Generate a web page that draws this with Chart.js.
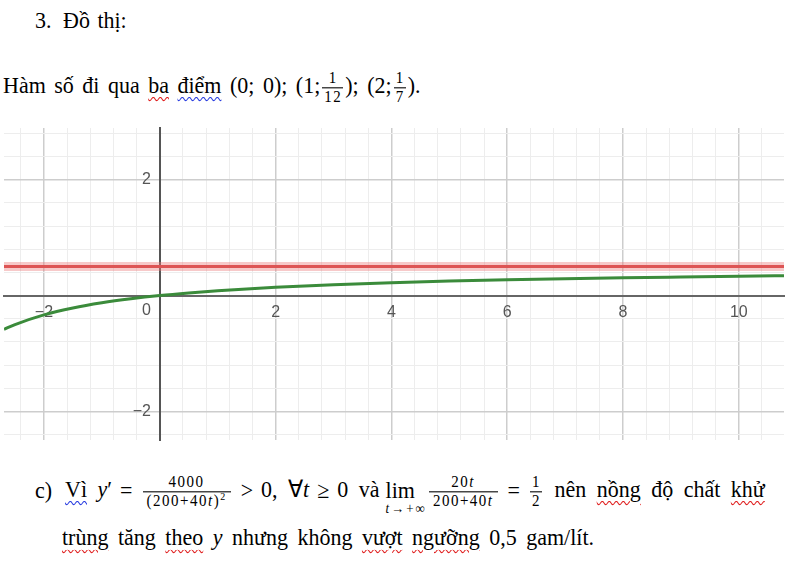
<!DOCTYPE html>
<html>
<head>
<meta charset="utf-8">
<script src="https://cdn.jsdelivr.net/npm/chart.js@4.4.1/dist/chart.umd.min.js"></script>
<style>
  html, body { margin: 0; padding: 0; background: #fff; }
  body { width: 799px; height: 563px; position: relative; overflow: hidden;
         font-family: "Liberation Serif", "Times New Roman", serif; color: #000; }
  .ln { position: absolute; font-size: 22px; line-height: 22px; white-space: nowrap; word-spacing: 4px;
        transform: scaleY(1.08); transform-origin: 0 0; }
  .fr { display: inline-flex; flex-direction: column; align-items: center; vertical-align: middle;
        font-size: 15px; line-height: 15px; margin: 0 2px; letter-spacing: 1.5px; word-spacing: 0; }
  .fr .n { padding: 0 4px 1px; }
  .fr .d { border-top: 1px solid #000; padding: 1px 4px 0; }
  .fr.s .n, .fr.s .d { padding-left: 2px; padding-right: 1px; }
  .fr sup { font-size: 10px; line-height: 0; }
  .op { margin: 0 8px; }
  .lim { position: relative; display: inline-block; margin: 0 12px 0 6px; }
  .lim .sub { position: absolute; left: 0; top: 21px; font-size: 13px; line-height: 13px; letter-spacing: 2px; }
  .sr { text-decoration: underline wavy #e01e1e; text-decoration-thickness: 1px; text-underline-offset: 3px; }
  .sb { text-decoration: underline wavy #2a3ee0; text-decoration-thickness: 1px; text-underline-offset: 3px; }
  #wrap { position: absolute; left: 0; top: 124px; width: 788px; height: 320px; }
</style>
</head>
<body>

<div class="ln" style="left:35px; top:9px;">3.</div>
<div class="ln" style="left:63px; top:9px; word-spacing:2px;">Đồ thị:</div>

<div class="ln" style="left:3px; top:70px; word-spacing:3px;">Hàm số đi qua <span class="sr">ba</span> <span class="sb">điểm</span> (0; 0); (1;<span class="fr s"><span class="n">1</span><span class="d">12</span></span>); (2;<span class="fr s"><span class="n">1</span><span class="d">7</span></span>).</div>

<div id="wrap"><canvas id="chart"></canvas></div>

<div class="ln" style="left:35px; top:474px; word-spacing:5px;"><span style="display:inline-block; width:30px;">c)</span><span class="sb">Vì</span> <i>y</i>′<span class="op">=</span><span class="fr"><span class="n">4000</span><span class="d">(200+40<i>t</i>)<sup>2</sup></span></span><span class="op">&gt;</span>0, ∀<i>t</i><span class="op">≥</span>0 và<span class="lim">lim<span class="sub"><i>t</i>→+∞</span></span><span class="fr"><span class="n">20<i>t</i></span><span class="d">200+40<i>t</i></span></span><span class="op">=</span><span class="fr s"><span class="n">1</span><span class="d">2</span></span> nên <span class="sr">nồng</span> độ chất <span class="sr">khử</span></div>

<div class="ln" style="left:62px; top:526px;"><span class="sr">trùng</span> tăng <span class="sr">theo</span> <i>y</i> nhưng không <span class="sr">vượt</span> <span class="sr">ngưỡng</span> 0,5 gam/lít.</div>

<script>
// visible window of the graph
const xMin = -2.69
const xMax = 10.78
const yMin = -2.49
const yMax = 2.89

// y = 20t / (200 + 40t)
const curveT = [-2.69, -2.5, -2, -1.5, -1, -0.5, 0, 0.5, 1, 1.5, 2, 3, 4, 5, 6, 7, 8, 9, 10, 10.78]
const curveY = [-0.582, -0.5, -0.333, -0.214, -0.125, -0.056, 0, 0.045, 0.083, 0.115, 0.143, 0.188, 0.222, 0.25, 0.273, 0.292, 0.308, 0.321, 0.333, 0.342]

// horizontal asymptote y = 0.5
const asymT = [-2.69, 10.78]
const asymY = [0.5, 0.5]

const xLabels = [-2, 2, 4, 6, 8, 10]
const yLabels = [-2, 2]
const originLabels = [0]

const toPoints = (xs, ys) => xs.map((x, i) => ({ x: x, y: ys[i] }))
const isMajor = v => Math.abs(Math.round(v * 10) % 20) === 0
const fmt = v => (v < 0 ? '\u2212' + Math.abs(v) : String(v))
// tick values come out as 1.9999999999999996 etc, so match loosely
const pick = (list, v, tail) => {
  const hit = list.find(l => Math.abs(l - v) < 1e-6)
  return hit === undefined ? '' : fmt(hit) + tail
}
const gridColor = ctx => isMajor(ctx.tick.value) ? '#cdcdcd' : '#ededed'
const gridWidth = ctx => isMajor(ctx.tick.value) ? 1.5 : 1
const tickFont = { family: 'Liberation Sans', size: 16 }

// axes sit at x = 0 / y = 0, so they must not eat into the chart area
const noSpaceX = s => { s.height = 0; s.paddingLeft = 0; s.paddingRight = 0 }
const noSpaceY = s => { s.width = 0; s.paddingTop = 0; s.paddingBottom = 0 }

new Chart(document.getElementById('chart'), {
  type: 'line',
  data: {
    datasets: [
      {
        data: toPoints(asymT, asymY),
        borderColor: 'rgba(236, 120, 120, 0.4)',
        borderWidth: 9,
        pointRadius: 0
      },
      {
        data: toPoints(asymT, asymY),
        borderColor: '#d43c3c',
        borderWidth: 3,
        pointRadius: 0
      },
      {
        data: toPoints(curveT, curveY),
        borderColor: '#3b8b3b',
        borderWidth: 3,
        pointRadius: 0,
        cubicInterpolationMode: 'monotone'
      }
    ]
  },
  options: {
    responsive: true,
    maintainAspectRatio: false,
    animation: false,
    layout: { padding: { left: 4, right: 4, top: 4, bottom: 4 } },
    plugins: { legend: { display: false }, tooltip: { enabled: false } },
    scales: {
      x: {
        type: 'linear',
        position: { y: 0 },
        min: xMin,
        max: xMax,
        afterFit: noSpaceX,
        ticks: {
          stepSize: 0.4,
          includeBounds: false,
          autoSkip: false,
          maxRotation: 0,
          padding: 7,
          color: '#555',
          font: tickFont,
          callback: v => pick(xLabels, v, '')
        },
        grid: { color: gridColor, lineWidth: gridWidth, drawTicks: false },
        border: { color: '#666', width: 2 }
      },
      y: {
        type: 'linear',
        position: { x: 0 },
        min: yMin,
        max: yMax,
        afterFit: noSpaceY,
        ticks: {
          stepSize: 0.4,
          includeBounds: false,
          autoSkip: false,
          color: '#555',
          font: tickFont,
          callback: v => pick(yLabels, v, '  ')
        },
        grid: { color: gridColor, lineWidth: gridWidth, drawTicks: false },
        border: { color: '#555', width: 2 }
      },
      y0: {
        axis: 'y',
        type: 'linear',
        position: { x: 0 },
        min: yMin,
        max: yMax,
        afterFit: noSpaceY,
        ticks: {
          stepSize: 0.4,
          includeBounds: false,
          autoSkip: false,
          labelOffset: 15,
          color: '#555',
          font: tickFont,
          callback: v => pick(originLabels, v, '  ')
        },
        grid: { display: false },
        border: { display: false }
      }
    }
  }
})
</script>
</body>
</html>
